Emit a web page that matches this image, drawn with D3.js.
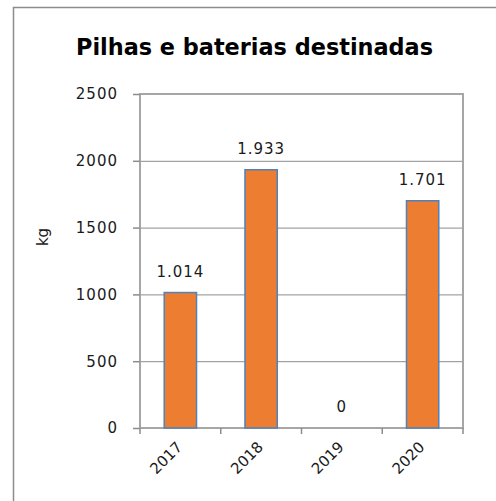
<!DOCTYPE html>
<html>
<head>
<meta charset="utf-8">
<script src="https://cdn.jsdelivr.net/npm/d3@7"></script>
<style>
  html, body { margin: 0; padding: 0; background: #fff; }
  svg text { font-family: "DejaVu Sans", Verdana, sans-serif; fill: #1a1a1a; }
</style>
</head>
<body>
<svg id="viz"></svg>
<script>
// ----------------------------------------------------------------------------------------------------------------
// DATA

var years = ["2017", "2018", "2019", "2020"];
var amounts = [1014, 1933, 0, 1701];
var yTicks = [0, 500, 1000, 1500, 2000, 2500];
var chartTitle = "Pilhas e baterias destinadas";
var yTitle = "kg";

// ----------------------------------------------------------------------------------------------------------------
// INITIAL SETUP

var w = 496;
var h = 501;
var viz = d3.select("#viz").attr("width", w).attr("height", h);

var plot = {left: 140, right: 463, top: 94, bottom: 428};

var x = d3.scaleBand()
  .domain(years)
  .range([plot.left, plot.right])
  .paddingInner(0.6)
  .paddingOuter(0.3);

var y = d3.scaleLinear()
  .domain([0, 2500])
  .range([plot.bottom, plot.top]);

// outer chart frame (only left and top edges fall inside the picture)
viz.append("path")
  .attr("d", "M13.5," + h + "V7.5H" + w)
  .attr("fill", "none")
  .attr("stroke", "#8c8c8c")
  .attr("stroke-width", 1.5);

// title
viz.append("text")
  .attr("x", 254.5)
  .attr("y", 55)
  .attr("text-anchor", "middle")
  .attr("font-size", 23)
  .attr("font-weight", "bold")
  .attr("textLength", 357)
  .attr("lengthAdjust", "spacingAndGlyphs")
  .style("fill", "#000")
  .text(chartTitle);

// ----------------------------------------------------------------------------------------------------------------
// CHART

// gridlines
viz.append("g")
  .attr("transform", "translate(" + plot.left + ",0)")
  .call(d3.axisLeft(y).tickValues(yTicks).tickSize(-(plot.right - plot.left)).tickFormat(""))
  .call(function(g) { g.select(".domain").remove(); })
  .selectAll("line")
  .attr("stroke", "#8c8c8c")
  .attr("stroke-width", 1);

// plot border
viz.append("rect")
  .attr("x", plot.left)
  .attr("y", plot.top)
  .attr("width", plot.right - plot.left)
  .attr("height", plot.bottom - plot.top)
  .attr("fill", "none")
  .attr("stroke", "#a6a6a6")
  .attr("stroke-width", 2);

// y axis with outer ticks
var yAxis = viz.append("g")
  .attr("transform", "translate(" + plot.left + ",0)")
  .call(d3.axisLeft(y).tickValues(yTicks).tickSize(7).tickPadding(15).tickFormat(d3.format("d")));
yAxis.select(".domain").remove();
yAxis.selectAll("line").attr("stroke", "#8c8c8c").attr("stroke-width", 1.5);
yAxis.selectAll("text")
  .attr("font-size", 15)
  .attr("letter-spacing", 1)
  .style("font-family", "DejaVu Sans, sans-serif")
  .style("fill", "#1a1a1a");

// category boundary ticks on the x axis
var bounds = d3.range(years.length + 1).map(function(i) { return plot.left + i * x.step(); });
viz.selectAll("line.xtick")
  .data(bounds)
  .enter()
  .append("line")
  .attr("class", "xtick")
  .attr("x1", function(d) { return d; })
  .attr("x2", function(d) { return d; })
  .attr("y1", plot.bottom)
  .attr("y2", plot.bottom + 6)
  .attr("stroke", "#8c8c8c")
  .attr("stroke-width", 1.5);

// bars
viz.selectAll("rect.bar")
  .data(amounts)
  .enter()
  .append("rect")
  .attr("class", "bar")
  .attr("x", function(d, i) { return x(years[i]); })
  .attr("y", function(d) { return y(d); })
  .attr("width", x.bandwidth())
  .attr("height", function(d) { return y(0) - y(d); })
  .attr("fill", "#ED7D31")
  .attr("stroke", "#4F81BD")
  .attr("stroke-width", 1.5);

// value labels (pt-BR thousands separator)
var ptFormat = d3.formatLocale({decimal: ",", thousands: ".", grouping: [3], currency: ["R$", ""]}).format(",d");
viz.selectAll("text.value")
  .data(amounts)
  .enter()
  .append("text")
  .attr("class", "value")
  .attr("x", function(d, i) { return x(years[i]) + x.bandwidth() / 2; })
  .attr("y", function(d) { return y(d) - 16; })
  .attr("text-anchor", "middle")
  .attr("font-size", 15)
  .attr("letter-spacing", 1)
  .text(function(d) { return ptFormat(d); });

// category labels, rotated
viz.selectAll("text.year")
  .data(years)
  .enter()
  .append("text")
  .attr("class", "year")
  .attr("transform", function(d) {
    return "translate(" + (x(d) + x.bandwidth() / 2 + 3) + "," + 448 + ") rotate(-45)";
  })
  .attr("text-anchor", "end")
  .attr("font-size", 15)
  .text(function(d) { return d; });

// y axis title
viz.append("text")
  .attr("transform", "translate(48,237) rotate(-90)")
  .attr("text-anchor", "middle")
  .attr("font-size", 15)
  .text(yTitle);
</script>
</body>
</html>
